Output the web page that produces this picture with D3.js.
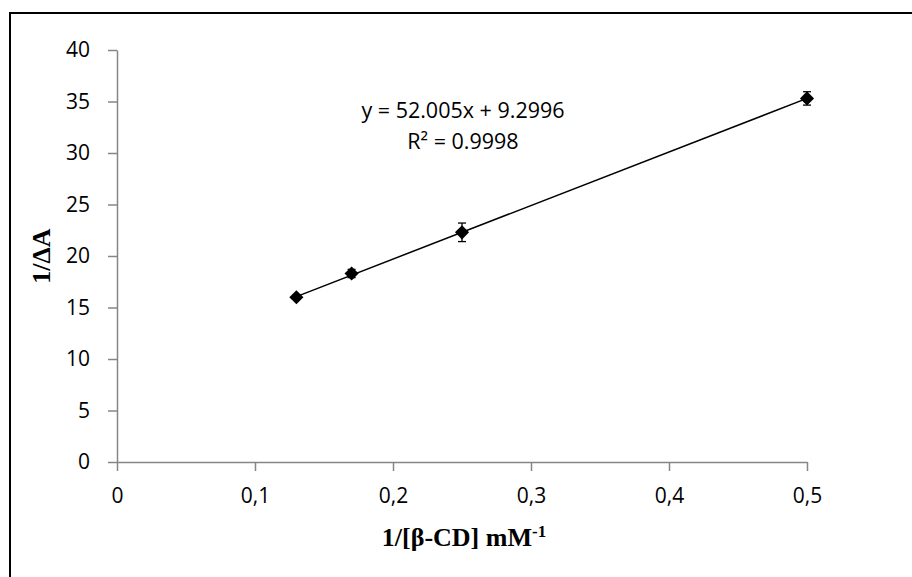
<!DOCTYPE html>
<html>
<head>
<meta charset="utf-8">
<script src="https://cdn.jsdelivr.net/npm/d3@7"></script>
<style>
    body { margin: 0; background: #fff; }
    svg { display: block; }
</style>
</head>
<body>
<div id="chart"></div>
<script>
    "use strict";
    // data
    var xValues = [0.13, 0.17, 0.25, 0.5];
    var yValues = [16.0, 18.3, 22.3, 35.3];
    var yErrors = [0.2, 0.4, 0.9, 0.65];
    var xTicks = [0, 0.1, 0.2, 0.3, 0.4, 0.5];
    var yTicks = [0, 5, 10, 15, 20, 25, 30, 35, 40];
    // trendline as printed on the chart
    var slope = 52.005, intercept = 9.2996;
    var eqLines = ["y = 52.005x + 9.2996", "R² = 0.9998"];

    var width = 912, height = 577;
    var svg = d3.select("#chart").append("svg")
        .attr("width", width)
        .attr("height", height);

    // outer frame (runs off the right and bottom edges)
    svg.append("rect")
        .attr("x", 10).attr("y", 13)
        .attr("width", 1000).attr("height", 1000)
        .attr("fill", "none")
        .attr("stroke", "#000")
        .attr("stroke-width", 2);

    var x = d3.scaleLinear().domain([0, 0.5]).range([117, 807]);
    var y = d3.scaleLinear().domain([0, 40]).range([462, 50]);

    var tickFont = "'Open Sans', sans-serif";
    var axisGrey = "#868686";

    var yAxis = svg.append("g")
        .attr("transform", "translate(" + x(0) + ",0)")
        .call(d3.axisLeft(y).tickValues(yTicks).tickSize(9).tickSizeOuter(0).tickPadding(18));

    var xAxis = svg.append("g")
        .attr("transform", "translate(0," + y(0) + ")")
        .call(d3.axisBottom(x).tickValues(xTicks).tickSize(9).tickSizeOuter(0).tickPadding(17)
            .tickFormat(function(d) { return String(d).replace(".", ","); }));

    [xAxis, yAxis].forEach(function(a) {
        a.select(".domain").attr("stroke", axisGrey).attr("stroke-width", 1.5);
        a.selectAll(".tick line").attr("stroke", axisGrey).attr("stroke-width", 1.5);
        a.selectAll(".tick text")
            .attr("fill", "#000")
            .style("font-family", tickFont)
            .style("font-size", "21px");
    });

    // trendline over the data range
    var xMin = d3.min(xValues), xMax = d3.max(xValues);
    svg.append("line")
        .attr("x1", x(xMin)).attr("y1", y(slope * xMin + intercept))
        .attr("x2", x(xMax)).attr("y2", y(slope * xMax + intercept))
        .attr("stroke", "#000")
        .attr("stroke-width", 1.5);

    var points = xValues.map(function(v, i) { return {x: v, y: yValues[i], e: yErrors[i]}; });

    // error bars
    var eb = svg.append("g").attr("stroke", "#000").attr("stroke-width", 1.3);
    points.forEach(function(p) {
        var cx = x(p.x), top = y(p.y + p.e), bot = y(p.y - p.e);
        eb.append("line").attr("x1", cx).attr("x2", cx).attr("y1", top).attr("y2", bot);
        eb.append("line").attr("x1", cx - 4).attr("x2", cx + 4).attr("y1", top).attr("y2", top);
        eb.append("line").attr("x1", cx - 4).attr("x2", cx + 4).attr("y1", bot).attr("y2", bot);
    });

    // diamond markers
    var diamond = d3.symbol().type(d3.symbolSquare).size(100);
    svg.selectAll(".marker")
        .data(points)
        .join("path")
        .attr("class", "marker")
        .attr("d", diamond)
        .attr("transform", function(d) { return "translate(" + x(d.x) + "," + y(d.y) + ") rotate(45)"; })
        .attr("fill", "#000");

    // equation label
    var eq = svg.append("text")
        .attr("text-anchor", "middle")
        .style("font-family", tickFont)
        .style("font-size", "21.5px")
        .attr("fill", "#000");
    eq.append("tspan").attr("x", 463).attr("y", 118).text(eqLines[0]);
    eq.append("tspan").attr("x", 463).attr("y", 149).text(eqLines[1]);

    // axis titles
    var titleFont = "'Liberation Serif', 'Times New Roman', serif";
    var xt = svg.append("text")
        .attr("x", 464).attr("y", 546)
        .attr("text-anchor", "middle")
        .style("font-family", titleFont)
        .style("font-weight", "bold")
        .style("font-size", "26px");
    xt.append("tspan").text("1/[β-CD] mM");
    xt.append("tspan").attr("dy", -9).style("font-size", "17px").text("-1");

    svg.append("text")
        .attr("transform", "translate(50,256) rotate(-90)")
        .attr("text-anchor", "middle")
        .style("font-family", titleFont)
        .style("font-weight", "bold")
        .style("font-size", "26px")
        .text("1/ΔA");
</script>
</body>
</html>
